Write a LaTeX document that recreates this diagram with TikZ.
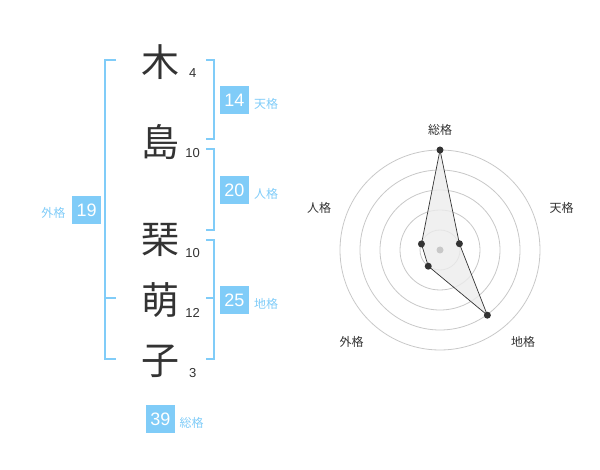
\documentclass[tikz,border=0pt]{standalone}
\usepackage{tikz}
\usepackage{xcolor}
\usepackage{fontspec}
\newfontfamily\cjk{Noto Sans CJK JP}
\newfontfamily\digits{Liberation Sans}
\definecolor{kakublue}{RGB}{128,204,248}
\definecolor{inkgray}{RGB}{51,51,51}
\definecolor{ringgray}{RGB}{200,200,200}
\tikzset{
  bracket/.style={line width=2pt, kakublue},
  kanji/.style={inkgray, inner sep=0pt, font=\cjk\fontsize{38}{38}\selectfont},
  strokes/.style={inkgray, inner sep=0pt, font=\digits\fontsize{13}{13}\selectfont},
  scorebox/.style={fill=kakublue, text=white, minimum width=29pt, minimum height=28pt, inner sep=0pt, font=\digits\fontsize{18}{18}\selectfont},
  kakulabel/.style={kakublue, inner sep=0pt, font=\cjk\fontsize{12}{12}\selectfont},
  axislabel/.style={inkgray, inner sep=0pt, font=\cjk\fontsize{12}{12}\selectfont},
  dot/.style={circle, fill=inkgray, inner sep=0pt, minimum size=7pt}
}
\begin{document}
\begin{tikzpicture}[x=1pt, y=-1pt]
\useasboundingbox (0,0) rectangle (600,470);
% name and stroke counts
\node[kanji] (k1) at (160,61.7) {木};
\node[kanji] (k2) at (160,141.7) {島};
\node[kanji] (k3) at (160,240) {琹};
\node[kanji] (k4) at (160,300) {萌};
\node[kanji] (k5) at (160,361.7) {子};
\node[strokes] (s1) at (192.7,73.3) {4};
\node[strokes] (s2) at (192.7,152.7) {10};
\node[strokes] (s3) at (192.7,252.7) {10};
\node[strokes] (s4) at (192.7,312.7) {12};
\node[strokes] (s5) at (192.7,373.3) {3};
% brackets
\draw[bracket] (116,60) -- (105,60) -- (105,359.3) -- (116,359.3);
\draw[bracket] (105,298.5) -- (116,298.5);
\draw[bracket] (206,60) -- (214.3,60) -- (214.3,139.3) -- (206,139.3);
\draw[bracket] (206,149.3) -- (214.3,149.3) -- (214.3,230) -- (206,230);
\draw[bracket] (206,240) -- (214.3,240) -- (214.3,359.3) -- (206,359.3);
\draw[bracket] (206,298.5) -- (214.3,298.5);
% scores
\node[scorebox] (ten) at (234.5,100) {14};
\node[kakulabel] (tenl) at (266,104) {天格};
\node[scorebox] (jin) at (234.5,190) {20};
\node[kakulabel] (jinl) at (266,194) {人格};
\node[scorebox] (chi) at (234.5,300) {25};
\node[kakulabel] (chil) at (266,304) {地格};
\node[scorebox] (gai) at (86.7,210) {19};
\node[kakulabel] (gail) at (53.5,213) {外格};
\node[scorebox] (so) at (160.5,419) {39};
\node[kakulabel] (sol) at (191.5,423) {総格};
% radar chart
\begin{scope}[shift={(440,250)}]
\foreach \r in {20,40,60,80,100}
  \draw[ringgray, line width=0.8pt] (0,0) circle[radius=\r];
\coordinate (pso) at (-90:100);
\coordinate (pten) at (-18:20.4);
\coordinate (pchi) at (54:80.6);
\coordinate (pgai) at (126:20);
\coordinate (pjin) at (198:19.5);
\filldraw[fill=gray!15, fill opacity=0.8, draw=inkgray, line width=0.7pt]
  (pso) -- (pten) -- (pchi) -- (pgai) -- (pjin) -- cycle;
\fill[ringgray] (0,0) circle[radius=3.5];
\foreach \p in {pso,pten,pchi,pgai,pjin}
  \node[dot] at (\p) {};
\end{scope}
\node[axislabel] (aso) at (440,130) {総格};
\node[axislabel] (aten) at (561.7,208) {天格};
\node[axislabel] (ajin) at (319,208) {人格};
\node[axislabel] (agai) at (351.7,341.7) {外格};
\node[axislabel] (achi) at (523,341.7) {地格};
\end{tikzpicture}
\end{document}
